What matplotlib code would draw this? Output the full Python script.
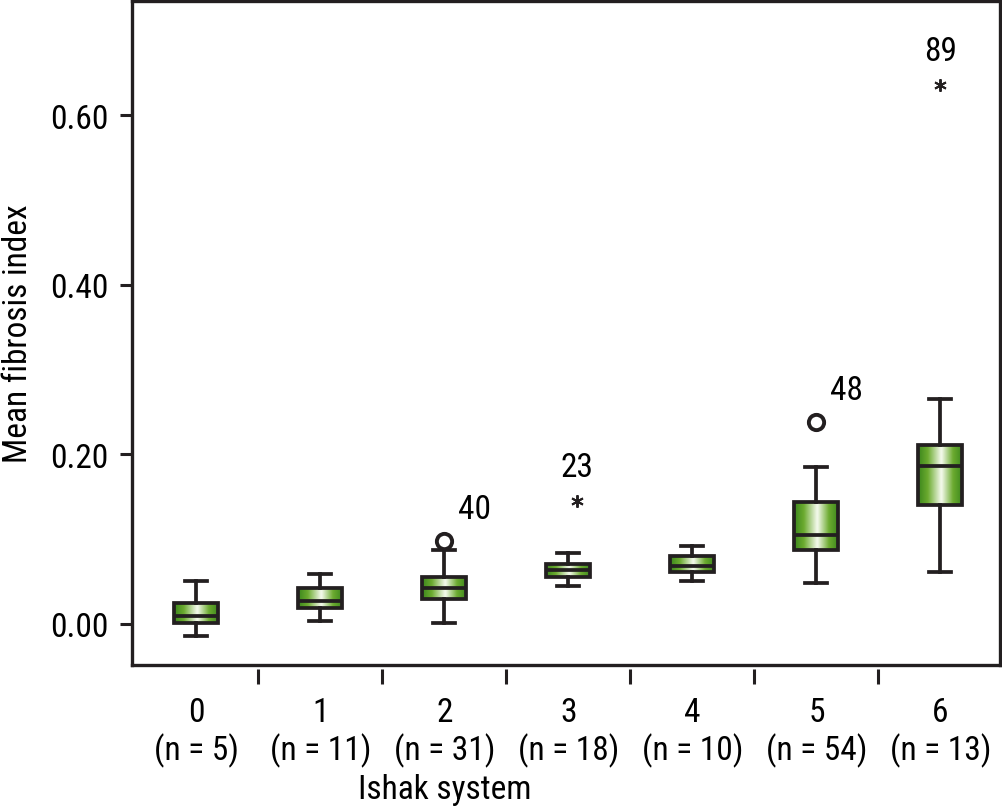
import matplotlib
matplotlib.use("Agg")
import matplotlib.pyplot as plt
import numpy as np
from matplotlib import font_manager
from matplotlib.colors import LinearSegmentedColormap

# Ishak fibrosis stages and group sizes
stages = [0, 1, 2, 3, 4, 5, 6]
n_cases = [5, 11, 31, 18, 10, 54, 13]

# box-plot summary
whislo = [-0.014, 0.004, 0.001, 0.045, 0.051, 0.048, 0.061]
q1 = [0.001, 0.019, 0.030, 0.055, 0.061, 0.087, 0.140]
med = [0.010, 0.027, 0.042, 0.064, 0.068, 0.105, 0.186]
q3 = [0.025, 0.042, 0.055, 0.071, 0.080, 0.144, 0.211]
whishi = [0.051, 0.059, 0.087, 0.084, 0.092, 0.185, 0.265]

# outliers (circles) and extremes (stars) with case numbers
outlier_stage = [2, 5]
outlier_value = [0.098, 0.238]
outlier_case = ["40", "48"]
extreme_stage = [3, 6]
extreme_value = [0.145, 0.636]
extreme_case = ["23", "89"]

INK = "#231f20"

# the original uses a condensed grotesque; take the first narrow face found
installed = {f.name for f in font_manager.fontManager.ttflist}
narrow = [f for f in ("Nimbus Sans Narrow", "Arial Narrow", "Liberation Sans Narrow",
                      "Roboto Condensed", "Archivo Narrow", "PT Sans Narrow",
                      "Pragati Narrow") if f in installed]
plt.rcParams["font.family"] = narrow[:1] + ["DejaVu Sans"]
FS = 24 if narrow else 18
plt.rcParams["font.size"] = FS

green = LinearSegmentedColormap.from_list(
    "grad", [(0.0, "#3a861b"), (0.22, "#6cab30"), (0.52, "#f6fbef"),
             (0.78, "#6cab30"), (1.0, "#3a861b")])

fig = plt.figure(figsize=(10.03, 8.12), dpi=100)
ax = fig.add_axes([0.1316, 0.1798, 0.8654, 0.8177])

stats = []
for i in range(len(stages)):
    stats.append(dict(whislo=whislo[i], q1=q1[i], med=med[i], q3=q3[i],
                      whishi=whishi[i], fliers=[]))

width = 0.355
lw = 2.7
bp = ax.bxp(stats, positions=stages, widths=width, patch_artist=True,
            showfliers=False,
            boxprops=dict(facecolor="none", edgecolor=INK, linewidth=lw),
            medianprops=dict(color=INK, linewidth=lw),
            whiskerprops=dict(color=INK, linewidth=lw),
            capprops=dict(color=INK, linewidth=lw),
            capwidths=width * 0.5)
for b in bp["boxes"]:
    b.set_zorder(3)
for part in ("medians", "whiskers", "caps"):
    for ln in bp[part]:
        ln.set_zorder(3)

grad = np.linspace(0, 1, 256).reshape(1, -1)
for pos, lo, hi, box in zip(stages, q1, q3, bp["boxes"]):
    im = ax.imshow(grad, cmap=green, aspect="auto", interpolation="bicubic",
                   extent=[pos - width / 2, pos + width / 2, lo, hi], zorder=2)
    im.set_clip_path(box)

ax.plot(outlier_stage, outlier_value, "o", ms=11, mfc="white", mec=INK,
        mew=2.8, zorder=4)
star_x = np.array(extreme_stage) + 0.07 * (np.array(extreme_stage) == 3)
ax.plot(star_x, extreme_value, ls="none", marker=(6, 2, 0), ms=9, color=INK,
        mew=1.4, zorder=4)

for s, v, c in zip(outlier_stage, outlier_value, outlier_case):
    ax.annotate(c, (s, v), xytext=(30, 32), textcoords="offset pixels",
                ha="center", va="center", fontsize=FS, color="black")
for s, v, c in zip(star_x, extreme_value, extreme_case):
    ax.annotate(c, (s, v), xytext=(0, 34), textcoords="offset pixels",
                ha="center", va="center", fontsize=FS, color="black")

ax.set_xlim(-0.52, 6.48)
ax.set_ylim(-0.0484, 0.735)

ax.set_yticks([0.0, 0.2, 0.4, 0.6])
ax.set_yticklabels([f"{v:.2f}" for v in [0.0, 0.2, 0.4, 0.6]])
ax.tick_params(axis="y", direction="out", length=9, width=2.2,
               color=INK, pad=8, labelsize=FS)

# grade labels sit between the tick marks
ax.set_xticks(np.arange(0.5, 6.5, 1.0))
ax.set_xticklabels([])
ax.set_xticks(stages, minor=True)
ax.set_xticklabels([f"{s}\n(n = {n})" for s, n in zip(stages, n_cases)],
                   minor=True, linespacing=1.55)
ax.tick_params(axis="x", which="major", direction="out", length=11,
               width=2.2, color=INK)
ax.tick_params(axis="x", which="minor", length=0, pad=19, labelsize=FS)

ax.spines["bottom"].set_position(("outward", 3))
ax.spines["bottom"].set_visible(False)
for side in ("left", "top", "right"):
    ax.spines[side].set_linewidth(2.4)
    ax.spines[side].set_color(INK)
ax.plot([0, 1], [0, 0], transform=ax.transAxes, color=INK, lw=2.4,
        clip_on=False, solid_capstyle="projecting", zorder=5)

ax.set_ylabel("Mean fibrosis index", fontsize=FS)
ax.yaxis.set_label_coords(-0.113, 0.5)
ax.set_xlabel("Ishak system", fontsize=FS)
ax.xaxis.set_label_coords(0.36, -0.163)

fig.savefig("out.png", dpi=100)
